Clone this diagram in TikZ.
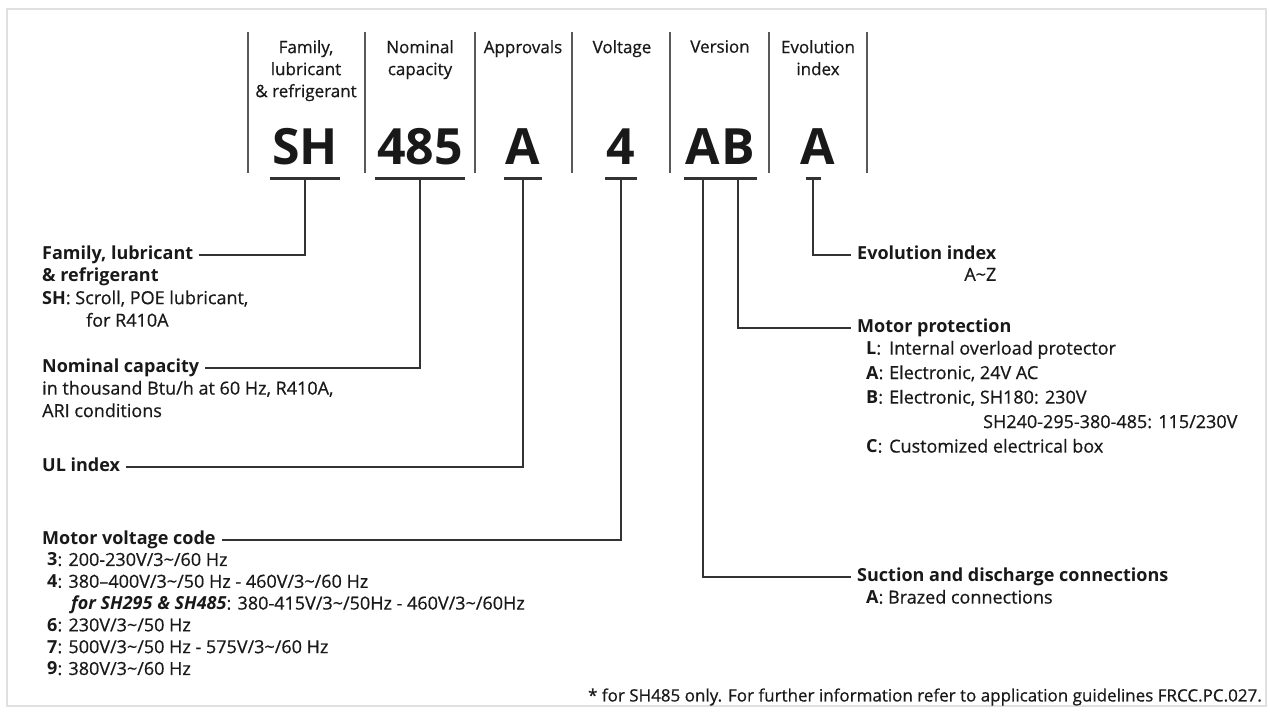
\documentclass[tikz,border=0pt]{standalone}
\usepackage{fontspec}
\setmainfont{Open Sans}[UprightFeatures={FakeBold=0.6}]
\usetikzlibrary{positioning}
\newcommand{\tld}{\textasciitilde}
\newcommand{\lbl}[1]{\makebox[23pt][l]{\textbf{#1}:}}

\begin{document}
\begin{tikzpicture}[x=1pt,y=-1pt,color=black!90,
  sep/.style={line width=2.5pt,black!65},
  bar/.style={line width=3pt,black!80},
  tie/.style={line width=2pt,black!80},
  code/.style={font=\fontsize{50}{50}\bfseries,text depth=0pt,inner xsep=1.5pt,inner ysep=0pt,anchor=base},
  colhead/.style={font=\fontsize{17}{22}\selectfont,align=center,anchor=north,inner sep=0pt},
  head/.style={font=\fontsize{18}{22}\bfseries,anchor=west,text height=13pt,text depth=4pt,inner xsep=6pt,inner ysep=4pt},
  desc/.style={font=\fontsize{18}{22.5}\selectfont,align=left,inner xsep=6pt,inner ysep=0pt}]
\useasboundingbox (0,0) rectangle (1270,723);
\draw[black!12,line width=1.5pt] (7,9) rectangle (1266,706);
% column separators
\foreach \x in {248,365,475,572,670,769,867}
  \draw[sep] (\x,32) -- (\x,173);
% column headings
\node[colhead] (hfam) at (306,40) {Family,\\lubricant\\\& refrigerant};
\node[colhead] (hcap) at (420,40) {Nominal\\capacity};
\node[colhead] (happr) at (523,40) {Approvals};
\node[colhead] (hvolt) at (622,40) {Voltage};
\node[colhead] (hver) at (720,40) {Version};
\node[colhead] (hevo) at (818,40) {Evolution\\index};
% the code
\node[code] (sh) at (305,164) {SH};
\node[code] (cap) at (420,164) {485};
\node[code] (appr) at (523,164) {A};
\node[code] (volt) at (621,164) {4};
\node[code] (vera) at (703,164) {A};
\node[code] (verb) at (738,164) {B};
\node[code] (evo) at (818,164) {A};
\foreach \c in {sh,cap,appr,volt,vera,verb}
  \draw[bar] ([yshift=-14pt]\c.base west) -- ([yshift=-14pt]\c.base east);
\draw[bar] ([xshift=-12pt,yshift=-14pt]evo.base) -- ([xshift=3pt,yshift=-14pt]evo.base);
% left hand labels
\node[head] (lfam) at (36,255) {Family, lubricant};
\node[desc,below=0pt of lfam.south west,anchor=north west] (dfam) {\textbf{\& refrigerant}\\\textbf{SH}: Scroll, POE lubricant,\\\hspace*{44pt}for R410A};
\node[head] (lcap) at (36,368) {Nominal capacity};
\node[desc,below=0pt of lcap.south west,anchor=north west] (dcap) {in thousand Btu/h at 60 Hz, R410A,\\ARI conditions};
\node[head] (lul) at (36,467) {UL index};
\node[head] (lvolt) at (36,540) {Motor voltage code};
\node[desc,below=0pt of lvolt.south west,anchor=north west,xshift=5pt,font=\fontsize{18}{21.8}\selectfont] (dvolt) {\textbf{3}: 200-230V/3\tld/60 Hz\\\textbf{4}: 380--400V/3\tld/50 Hz - 460V/3\tld/60 Hz\\\hspace*{24pt}\textbf{\textit{for SH295 \& SH485}}: 380-415V/3\tld/50Hz - 460V/3\tld/60Hz\\\textbf{6}: 230V/3\tld/50 Hz\\\textbf{7}: 500V/3\tld/50 Hz - 575V/3\tld/60 Hz\\\textbf{9}: 380V/3\tld/60 Hz};
% right hand labels
\node[head] (revo) at (851,255) {Evolution index};
\node[desc,below=0pt of revo.south east,anchor=north east,align=right] (devo) {A\tld Z};
\node[head] (rprot) at (851,328) {Motor protection};
\node[desc,below=0pt of rprot.south west,anchor=north west,xshift=9pt,font=\fontsize{18}{24.5}\selectfont] (dprot) {\lbl{L}Internal overload protector\\\lbl{A}Electronic, 24V AC\\\lbl{B}Electronic, SH180: 230V\\\hspace*{117pt}SH240-295-380-485: 115/230V\\\lbl{C}Customized electrical box};
\node[head] (rconn) at (851,577) {Suction and discharge connections};
\node[desc,below=0pt of rconn.south west,anchor=north west,xshift=9pt] (dconn) {\textbf{A}: Brazed connections};
% connectors
\draw[tie] ([yshift=-14pt]sh.base) |- (lfam.east);
\draw[tie] ([yshift=-14pt]cap.base) |- (lcap.east);
\draw[tie] ([yshift=-14pt]appr.base) |- (lul.east);
\draw[tie] ([yshift=-14pt]volt.base) |- (lvolt.east);
\draw[tie] ([yshift=-14pt]vera.base) |- (rconn.west);
\draw[tie] ([yshift=-14pt]verb.base) |- (rprot.west);
\draw[tie] ([xshift=-5pt,yshift=-14pt]evo.base) |- (revo.west);
\node[desc,anchor=east,font=\fontsize{17}{20}\selectfont] (note) at (1268,697) {* for SH485 only. For further information refer to application guidelines FRCC.PC.027.};
\end{tikzpicture}
\end{document}
